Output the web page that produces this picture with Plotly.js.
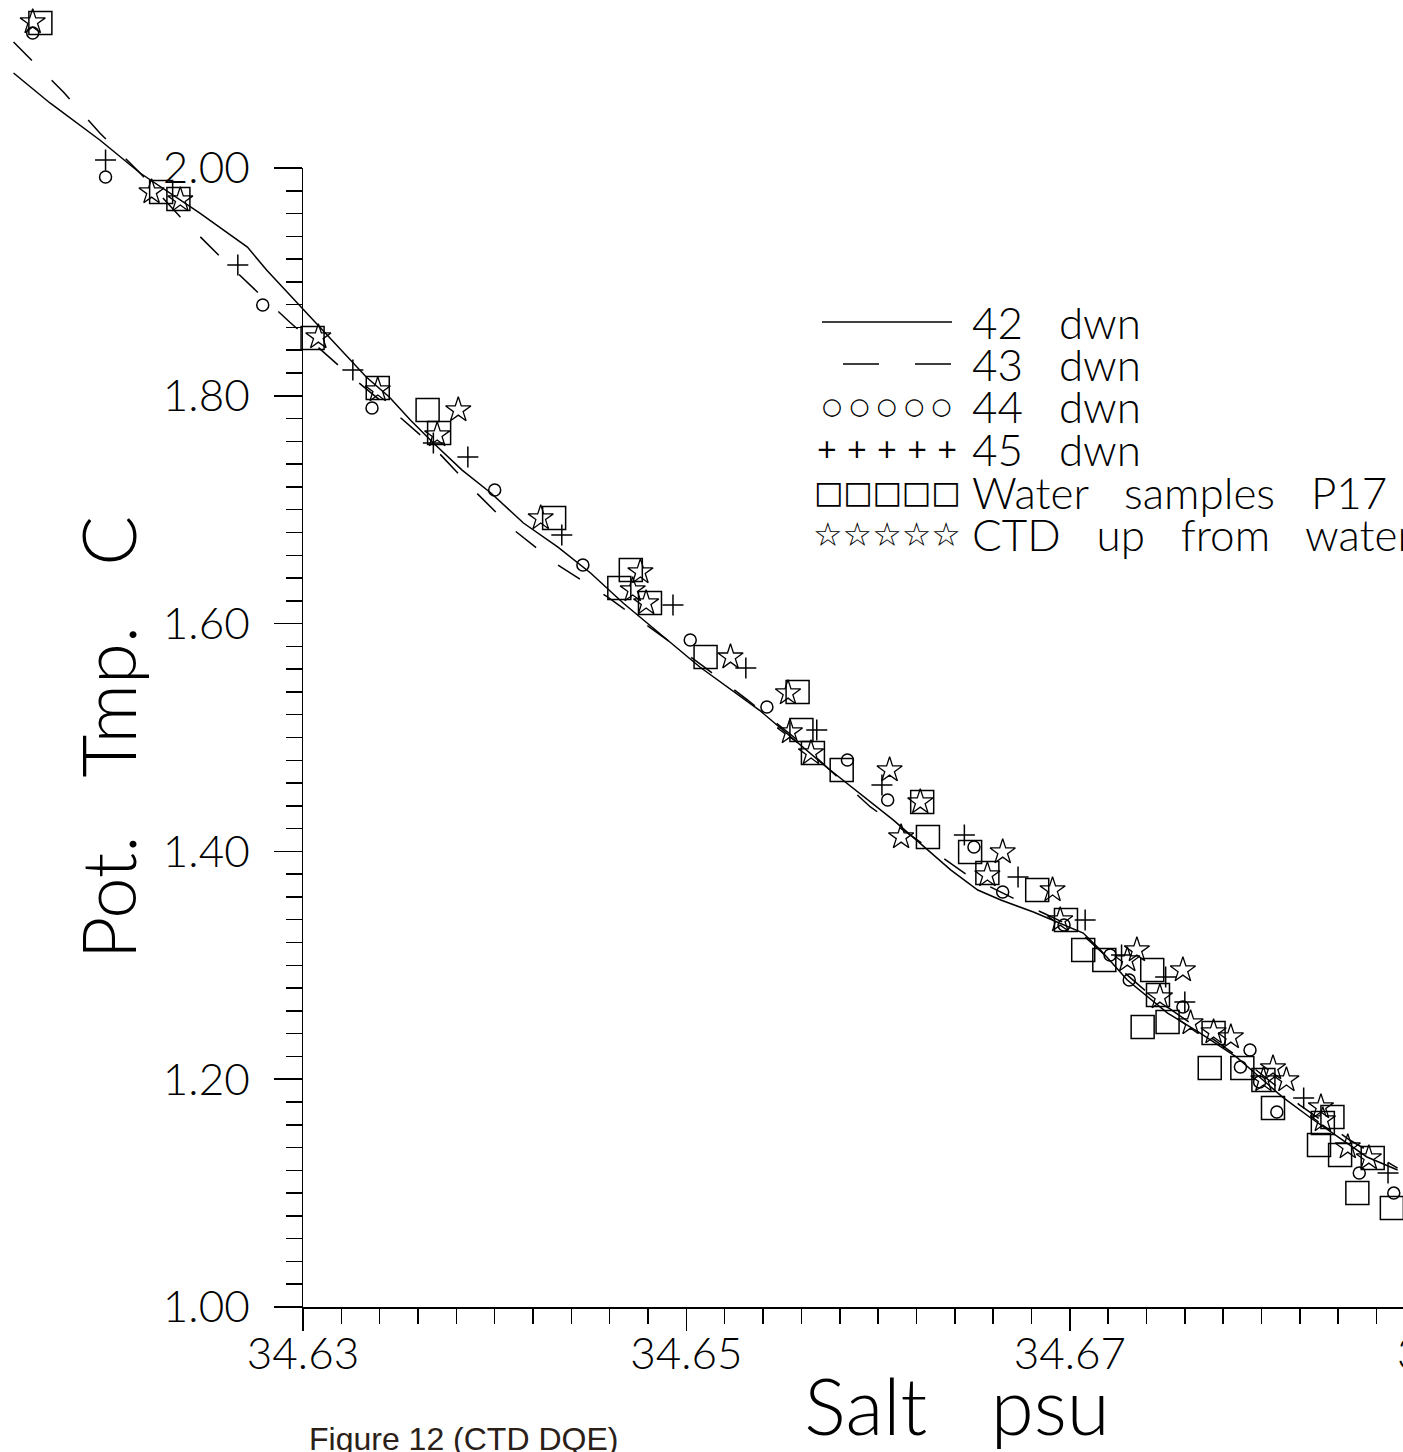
<!DOCTYPE html>
<html>
<head>
<meta charset="utf-8">
<script src="https://cdn.plot.ly/plotly-3.0.1.min.js"></script>
<style>
html, body { margin: 0; padding: 0; overflow: hidden; background: #fff; }
#chart { width: 1611px; height: 1452px; }
</style>
</head>
<body>
<div id="chart"></div>
<script>
// ---- data (salinity psu, potential temperature C) ----
const salt42 = [34.6149, 34.6168, 34.6194, 34.6215, 34.6246, 34.6271, 34.6281, 34.6298, 34.6333, 34.6345, 34.6356, 34.6368, 34.6383, 34.6398, 34.6415, 34.6433, 34.6450, 34.6467, 34.6488, 34.6507, 34.6538, 34.6573, 34.6608, 34.6638, 34.6652, 34.6664, 34.6681, 34.6693, 34.6707, 34.6716, 34.6730, 34.6751, 34.6768, 34.6787, 34.6801, 34.6811, 34.6825, 34.6837, 34.6855, 34.6871];
const temp42 = [2.0834, 2.0571, 2.0246, 1.9956, 1.9605, 1.9306, 1.9104, 1.8797, 1.8165, 1.7989, 1.7787, 1.7586, 1.7348, 1.7147, 1.6883, 1.6672, 1.6444, 1.6181, 1.5882, 1.5619, 1.5241, 1.4741, 1.4275, 1.3836, 1.3661, 1.3573, 1.3468, 1.3380, 1.3283, 1.3134, 1.2871, 1.2581, 1.2405, 1.2194, 1.1993, 1.1843, 1.1668, 1.1527, 1.1317, 1.1203];

const salt43 = [34.6149, 34.6175, 34.6194, 34.6215, 34.6236, 34.6257, 34.6279, 34.6293, 34.6323, 34.6345, 34.6366, 34.6389, 34.6410, 34.6433, 34.6459, 34.6508, 34.6532, 34.6556, 34.6596, 34.6648, 34.6685, 34.6703, 34.6721, 34.6742, 34.6768, 34.6794, 34.6820, 34.6846, 34.6871];
const temp43 = [2.1106, 2.0667, 2.0307, 1.9956, 1.9570, 1.9219, 1.8867, 1.8648, 1.8200, 1.7893, 1.7586, 1.7173, 1.6822, 1.6514, 1.6233, 1.5636, 1.5329, 1.5004, 1.4390, 1.3775, 1.3468, 1.3327, 1.3046, 1.2739, 1.2432, 1.2124, 1.1773, 1.1466, 1.1220];

const salt44 = [34.6159, 34.6197, 34.6279, 34.6336, 34.6400, 34.6446, 34.6502, 34.6542, 34.6584, 34.6605, 34.6650, 34.6665, 34.6697, 34.6721, 34.6731, 34.6759, 34.6794, 34.6789, 34.6799, 34.6808, 34.6851, 34.6869];
const temp44 = [2.1185, 1.9921, 1.8797, 1.7893, 1.7173, 1.6514, 1.5856, 1.5268, 1.4802, 1.4451, 1.4038, 1.3643, 1.3354, 1.3090, 1.2871, 1.2634, 1.2256, 1.2107, 1.1975, 1.1712, 1.1176, 1.1000];

const salt45 = [34.6197, 34.6266, 34.6326, 34.6368, 34.6386, 34.6435, 34.6493, 34.6531, 34.6568, 34.6602, 34.6645, 34.6673, 34.6708, 34.6727, 34.6750, 34.6760, 34.6822, 34.6866];
const temp45 = [2.0070, 1.9148, 1.8226, 1.7586, 1.7463, 1.6778, 1.6163, 1.5610, 1.5066, 1.4583, 1.4144, 1.3775, 1.3397, 1.3090, 1.2897, 1.2677, 1.1835, 1.1176];

const saltWater = [34.6163, 34.6226, 34.6235, 34.6305, 34.6339, 34.6365, 34.6371, 34.6431, 34.6471, 34.6465, 34.6481, 34.6510, 34.6558, 34.6560, 34.6566, 34.6581, 34.6623, 34.6626, 34.6648, 34.6657, 34.6683, 34.6698, 34.6707, 34.6718, 34.6743, 34.6746, 34.6738, 34.6751, 34.6775, 34.6773, 34.6790, 34.6801, 34.6806, 34.6837, 34.6832, 34.6830, 34.6841, 34.6858, 34.6850, 34.6868];
const tempWater = [2.1273, 1.9789, 1.9728, 1.8507, 1.8068, 1.7875, 1.7673, 1.6927, 1.6470, 1.6312, 1.6181, 1.5706, 1.5399, 1.5066, 1.4864, 1.4714, 1.4433, 1.4126, 1.3994, 1.3810, 1.3661, 1.3397, 1.3134, 1.3046, 1.2958, 1.2739, 1.2458, 1.2502, 1.2405, 1.2098, 1.2098, 1.1993, 1.1747, 1.1668, 1.1615, 1.1422, 1.1334, 1.1308, 1.1000, 1.0869];

const saltUp = [34.6159, 34.6221, 34.6236, 34.6308, 34.6339, 34.6381, 34.6370, 34.6424, 34.6476, 34.6472, 34.6479, 34.6523, 34.6553, 34.6554, 34.6565, 34.6606, 34.6622, 34.6612, 34.6665, 34.6657, 34.6691, 34.6695, 34.6735, 34.6730, 34.6759, 34.6747, 34.6763, 34.6775, 34.6784, 34.6806, 34.6813, 34.6801, 34.6831, 34.6832, 34.6845, 34.6856];
const tempUp = [2.1282, 1.9789, 1.9719, 1.8516, 1.8051, 1.7875, 1.7656, 1.6927, 1.6453, 1.6295, 1.6181, 1.5706, 1.5390, 1.5048, 1.4864, 1.4714, 1.4433, 1.4126, 1.3994, 1.3793, 1.3661, 1.3397, 1.3134, 1.3046, 1.2958, 1.2721, 1.2493, 1.2414, 1.2370, 1.2098, 1.1993, 1.1993, 1.1756, 1.1642, 1.1404, 1.1308];

const legendLabels = ["42   dwn", "43   dwn", "44   dwn", "45   dwn", "Water   samples   P17", "CTD   up   from   water"];
const xTitle = "Salt   psu";
const yTitle = "Pot.   Tmp.   C";
const caption = "Figure 12 (CTD DQE)";

// ---- layout geometry (pixels) ----
const W = 1611, H = 1452;
const axX = 303;        // pixel of salt 34.63 (y axis line)
const axY = 1307;       // pixel of temp 1.00 (x axis line)
const topY = 168;       // pixel of temp 2.00
const pxPerSalt = 19170;
const pxPerTemp = (axY - topY) / 1.0;

const x0 = 34.63 - axX / pxPerSalt;
const x1 = x0 + W / pxPerSalt;
const yTop = 2.0 + topY / pxPerTemp;
const yBot = 1.0 - (H - axY) / pxPerTemp;

const FONT = "Lato";
const WT = 300;
const fx = p => p / W;
const fy = p => 1 - p / H;

const ink = "#000";
const traces = [
  {x: salt42, y: temp42, mode: "lines", line: {color: ink, width: 1.5}, name: legendLabels[0]},
  {x: salt43, y: temp43, mode: "lines", line: {color: ink, width: 1.5, dash: "26px,28px"}, name: legendLabels[1]},
  {x: salt44, y: temp44, mode: "markers", marker: {symbol: "circle-open", size: 12, color: ink, line: {color: ink, width: 1.5}}, name: legendLabels[2]},
  {x: salt45, y: temp45, mode: "markers", marker: {symbol: "cross-thin-open", size: 15, color: ink, line: {color: ink, width: 1.5}}, name: legendLabels[3]},
  {x: saltWater, y: tempWater, mode: "markers", marker: {symbol: "square-open", size: 23, color: ink, line: {color: ink, width: 1.5}}, name: legendLabels[4]},
  {x: saltUp, y: tempUp, mode: "markers", marker: {symbol: "star-open", size: 19, color: ink, line: {color: ink, width: 1.3}}, name: legendLabels[5]},
  {x: [], y: [], xaxis: "x2", yaxis: "y2", mode: "markers", showlegend: false, hoverinfo: "skip"}
];
traces.forEach(t => { if (!t.xaxis) { t.showlegend = false; } });

const rowsY = [322, 364, 406, 449, 492, 534];
const annotations = legendLabels.map((lab, i) => ({
  text: lab, xref: "paper", yref: "paper", x: fx(970), y: fy(rowsY[i]),
  xanchor: "left", yanchor: "middle", showarrow: false,
  font: {family: FONT, size: 44, color: ink, weight: WT}
}));
const symRows = [
  {t: "○ ○ ○ ○ ○", s: 23, i: 2},
  {t: "+ + + + +", s: 26, i: 3},
  {t: "□□□□□", s: 31, i: 4},
  {t: "☆☆☆☆☆", s: 33, i: 5}
];
symRows.forEach(r => annotations.push({
  text: r.t, xref: "paper", yref: "paper", x: fx(887), y: fy(rowsY[r.i]),
  xanchor: "center", yanchor: "middle", showarrow: false,
  font: {family: "DejaVu Sans", size: r.s, color: ink}
}));
annotations.push({
  text: caption, xref: "paper", yref: "paper", x: fx(307), y: fy(1459),
  xanchor: "left", yanchor: "bottom", showarrow: false,
  font: {family: "Liberation Sans", size: 32, color: "#2a2018"}
});

const shapes = [
  {type: "line", xref: "paper", yref: "paper", x0: fx(822), x1: fx(952), y0: fy(rowsY[0]), y1: fy(rowsY[0]), line: {color: ink, width: 1.5}},
  {type: "line", xref: "paper", yref: "paper", x0: fx(843), x1: fx(952), y0: fy(rowsY[1]), y1: fy(rowsY[1]), line: {color: ink, width: 1.5, dash: "36px,36px"}}
];

const tickFont = {family: FONT, size: 44, color: ink, weight: WT};

const layout = {
  width: W, height: H,
  margin: {l: 0, r: 0, t: 0, b: 0, pad: 0},
  paper_bgcolor: "#fff", plot_bgcolor: "rgba(0,0,0,0)",
  showlegend: false,
  xaxis: {domain: [0, 1], range: [x0, x1], visible: false, fixedrange: true},
  yaxis: {domain: [0, 1], range: [yBot, yTop], visible: false, fixedrange: true},
  xaxis2: {
    domain: [fx(axX), 1], range: [34.63, x1], anchor: "y2", side: "bottom",
    showline: true, linecolor: ink, linewidth: 1.5, showgrid: false, zeroline: false,
    tickmode: "linear", tick0: 34.63, dtick: 0.02, tickformat: ".2f",
    ticks: "outside", ticklen: 22, tickwidth: 1.5, tickcolor: ink,
    minor: {ticks: "outside", tick0: 34.63, dtick: 0.002, ticklen: 15, tickwidth: 1.5, tickcolor: ink, showgrid: false},
    tickfont: tickFont, ticklabelstandoff: -14,
    title: {text: xTitle, font: {family: FONT, size: 78, color: ink, weight: WT}, standoff: 11}
  },
  yaxis2: {
    domain: [fy(axY), fy(topY)], range: [1.0, 2.0], anchor: "x2", side: "left",
    showline: true, linecolor: ink, linewidth: 1.5, showgrid: false, zeroline: false,
    tickmode: "linear", tick0: 1.0, dtick: 0.2, tickformat: ".2f",
    ticks: "outside", ticklen: 28, tickwidth: 1.5, tickcolor: ink,
    minor: {ticks: "outside", tick0: 1.0, dtick: 0.02, ticklen: 16, tickwidth: 1.5, tickcolor: ink, showgrid: false},
    tickfont: tickFont, ticklabelstandoff: 15,
    title: {text: yTitle, font: {family: FONT, size: 74, color: ink, weight: WT}, standoff: 2}
  },
  annotations: annotations,
  shapes: shapes
};

Plotly.newPlot("chart", traces, layout, {staticPlot: true, displayModeBar: false});
</script>
</body>
</html>
